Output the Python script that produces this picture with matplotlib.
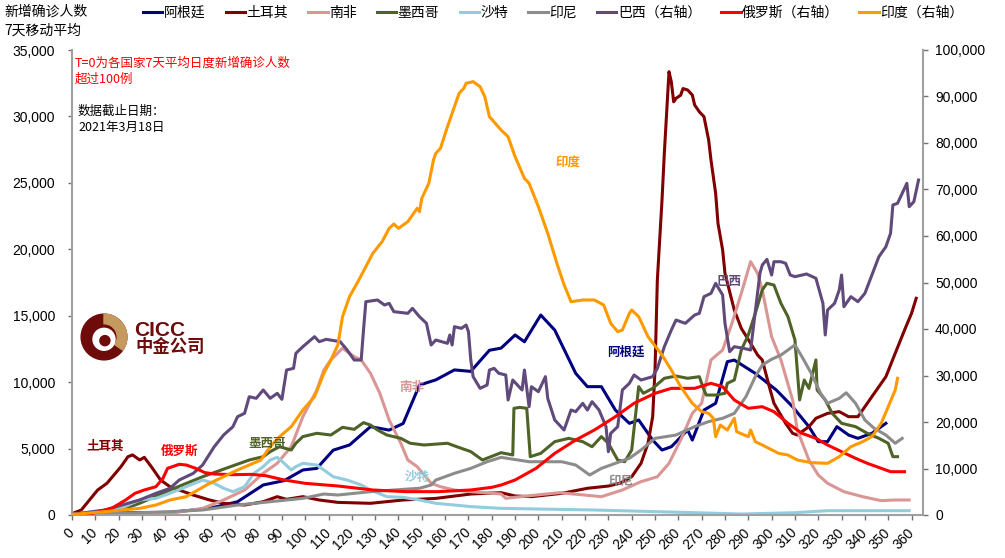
import matplotlib
matplotlib.use('Agg')
import matplotlib.pyplot as plt
from matplotlib.patches import Circle, Wedge
from matplotlib.ticker import FuncFormatter

plt.rcParams['font.family'] = ['Liberation Sans', 'Noto Sans CJK SC', 'DejaVu Sans']
CJK = ['Noto Sans CJK SC', 'DejaVu Sans']

# ---------------- data (T = days since 7-day avg > 100) ----------------
arg_days = [0, 20, 42, 59, 71, 82, 91, 99, 105, 112, 119, 128, 136, 142, 149, 156, 164, 171, 179, 184,
            190, 194, 201, 207, 216, 221, 227, 233, 239, 243, 249, 253, 257, 264, 266, 271, 276, 281, 284, 293,
            302, 309, 316, 320, 324, 328, 333, 337, 343, 349]
arg_vals = [100, 150, 200, 500, 1000, 2260, 2590, 3390, 3510, 4880, 5270, 6650, 6390, 6890, 9780, 10170, 10920, 10810, 12400, 12560,
            13550, 13040, 15050, 13920, 10660, 9660, 9660, 7900, 6900, 7150, 5640, 4890, 5140, 6400, 5640, 7900, 8410, 11540, 11660, 10660,
            9410, 8150, 6650, 5520, 5520, 6650, 6020, 5770, 6150, 6900]

tur_days = [0, 4, 11, 15, 21, 24, 26, 29, 31, 34, 38, 42, 46, 52, 59, 65, 74, 82, 88, 92,
            99, 106, 114, 128, 142, 156, 171, 184, 190, 197, 210, 221, 230, 235, 240, 244, 247, 249, 250, 251,
            253, 254, 256, 257, 258, 259, 261, 262, 264, 266, 267, 269, 271, 273, 274, 276, 277, 279, 280, 284,
            287, 291, 294, 296, 299, 301, 306, 309, 311, 316, 319, 324, 329, 333, 337, 340, 344, 349, 353, 357,
            360, 362]
tur_vals = [100, 380, 1880, 2390, 3640, 4390, 4520, 4140, 4340, 3640, 2630, 2130, 1880, 1500, 1130, 880, 750, 1000, 1380, 1180,
            1380, 1130, 950, 880, 1130, 1250, 1580, 1680, 1430, 1380, 1630, 2010, 2180, 2390, 2880, 3890, 5400, 7400, 10920, 17690,
            23710, 27250, 33370, 32600, 31100, 31360, 31600, 32100, 31990, 31610, 30860, 30350, 29980, 28225, 26720, 24210, 21955, 19945, 18190, 15430,
            14050, 12920, 12040, 11670, 9660, 8410, 6900, 6150, 6020, 6650, 7280, 7650, 7780, 7400, 7400, 8150, 9160, 10410, 12170, 13920,
            15180, 16310]

sa_days = [0, 42, 56, 65, 74, 82, 88, 94, 99, 105, 108, 111, 116, 121, 124, 128, 132, 136, 141, 144,
           148, 154, 158, 164, 171, 184, 186, 195, 209, 227, 236, 244, 251, 256, 261, 266, 270, 274, 279, 283,
           287, 291, 294, 296, 298, 300, 304, 309, 311, 316, 320, 324, 331, 339, 347, 353, 359]
sa_vals = [50, 125, 500, 1130, 1880, 3140, 3890, 5140, 7400, 9410, 10910, 11670, 12550, 11920, 11670, 10660, 9160, 7150, 5400, 4140,
           3640, 2390, 2130, 1880, 1755, 1580, 1255, 1430, 1680, 1380, 1880, 2510, 2880, 3890, 5650, 7650, 8410, 11670, 12420, 14430,
           16690, 19070, 18190, 16940, 15180, 13420, 11670, 8660, 6400, 4140, 3010, 2385, 1755, 1380, 1080, 1130, 1130]

mex_days = [0, 21, 29, 42, 56, 68, 76, 82, 85, 89, 94, 96, 99, 105, 111, 116, 121, 125, 128, 131,
            135, 141, 145, 151, 161, 165, 171, 176, 184, 189, 189.5, 192, 195, 196.5, 201, 207, 213, 219, 223, 227,
            230, 234, 237, 240, 243, 245, 249, 254, 259, 264, 269, 271, 272, 276, 280, 281, 284, 287, 290, 293,
            296, 298, 301, 304, 307, 310, 311, 312, 314, 316, 319, 319.5, 323, 326, 330, 336, 341, 346, 350, 352,
            354]
mex_vals = [50, 375, 880, 1880, 2880, 3640, 4140, 4390, 4770, 5140, 4890, 5400, 5900, 6150, 6020, 6600, 6450, 6950, 6770, 6400,
            6020, 5770, 5400, 5270, 5400, 5140, 4770, 4140, 4690, 4520, 8030, 8100, 8030, 4390, 4640, 5520, 5770, 5520, 5140, 5900,
            5400, 4140, 4010, 4890, 9660, 9160, 9530, 10290, 10460, 10290, 10410, 9410, 9030, 9030, 9160, 9910, 10160, 12420, 13550, 15180,
            16940, 17440, 17310, 15930, 14930, 13170, 10910, 8660, 10160, 9530, 11670, 9410, 8660, 7650, 6900, 6650, 6150, 5770, 5400, 4390,
            4390]

sau_days = [0, 21, 29, 36, 42, 49, 56, 61, 65, 69, 74, 78, 82, 85, 88, 91, 94, 96, 99, 105,
            108, 112, 118, 124, 128, 135, 142, 149, 156, 164, 171, 184, 224, 267, 287, 310, 324, 359]
sau_vals = [50, 500, 1130, 1255, 1630, 2130, 2630, 2385, 2010, 1755, 2130, 3140, 3640, 4140, 4340, 3890, 3390, 3640, 3890, 3760,
            3390, 2880, 2630, 2260, 1880, 1380, 1330, 1130, 880, 750, 630, 500, 375, 175, 75, 175, 325, 325]

idn_days = [0, 20, 42, 56, 71, 85, 99, 108, 114, 128, 142, 149, 154, 156, 164, 171, 178, 184, 196, 210,
            216, 222, 227, 233, 239, 244, 250, 259, 267, 273, 279, 284, 289, 293, 296, 300, 304, 307, 310, 313,
            317, 321, 324, 329, 332, 336, 340, 344, 349, 353, 356]
idn_vals = [50, 120, 250, 375, 750, 1000, 1255, 1580, 1505, 1755, 1930, 2010, 2260, 2630, 3140, 3510, 4010, 4340, 4010, 4010,
            3760, 3010, 3510, 3890, 4270, 4890, 5770, 6020, 6650, 7030, 7280, 7650, 8910, 10410, 11290, 11720, 12040, 12420, 12800, 11920,
            10660, 9160, 8410, 8780, 9200, 8410, 7150, 6520, 6020, 5400, 5770]

bra_days = [0, 14, 29, 36, 42, 46, 52, 56, 61, 65, 69, 71, 74, 76, 79, 82, 85, 88, 90, 92,
            95, 96, 99, 104, 106, 109, 115, 118, 121, 124, 125, 126, 131, 134, 136, 138, 144, 146, 149, 152,
            154, 156, 161, 162, 163, 164, 167, 169, 170, 171, 172, 175, 178, 179, 181, 183, 186, 187, 189, 193,
            194, 196, 197, 200, 203, 204, 207, 211, 214, 216, 219, 221, 223, 226, 229, 230, 231, 234, 236, 239,
            241, 244, 249, 251, 254, 257, 259, 263, 267, 269, 271, 274, 276, 279, 280, 282, 284, 288, 291, 293,
            295, 296, 298, 300, 301, 304, 306, 308, 310, 315, 319, 322, 323, 324, 327, 329, 330, 331, 334, 337,
            340, 343, 346, 349, 351, 352, 354, 356, 358, 359, 361, 363]
bra_vals = [100, 1075, 3230, 4660, 5740, 7530, 8960, 10750, 14690, 17200, 18990, 21140, 21870, 25440, 25090, 26880, 25090, 26170, 24880, 31180,
            31540, 34770, 36200, 38350, 37270, 37780, 37270, 35480, 33330, 33330, 39780, 45870, 46240, 45160, 45520, 43730, 43370, 44440, 42650, 41220,
            36560, 37630, 36920, 38710, 36560, 40500, 40140, 40860, 39420, 33330, 29750, 27240, 27960, 31180, 31540, 30470, 30110, 24730, 29030, 26880,
            31180, 23290, 27590, 26520, 29750, 25090, 20430, 18280, 22580, 22220, 24020, 22580, 24370, 22580, 18990, 13610, 17560, 18990, 26880, 28320,
            30110, 29030, 29750, 31540, 36200, 39780, 41930, 41220, 43010, 43370, 46950, 47670, 49820, 47310, 41220, 35120, 36200, 35840, 35480, 43730,
            52000, 53760, 54980, 51610, 54470, 54470, 54120, 51610, 51250, 51830, 50900, 45520, 38710, 44090, 45520, 48390, 51610, 44800, 46950, 45870,
            47670, 51610, 55550, 57700, 60570, 66670, 67030, 69180, 71330, 66300, 67380, 72040]

rus_days = [0, 9, 17, 23, 27, 31, 36, 39, 41, 46, 49, 53, 57, 61, 69, 77, 83, 91, 100, 114,
            129, 143, 157, 171, 180, 184, 190, 199, 207, 216, 224, 233, 241, 250, 257, 267, 274, 279, 284, 290,
            296, 301, 307, 313, 319, 324, 330, 336, 341, 347, 351, 357]
rus_vals = [100, 360, 1430, 3230, 4660, 5380, 6090, 7890, 10040, 10900, 10750, 10040, 9110, 8820, 8670, 8740, 8460, 7530, 6810, 6240,
            5380, 5020, 5020, 5380, 5950, 6450, 7530, 10040, 13260, 16130, 18280, 21140, 24020, 26170, 27240, 27240, 28320, 27590, 24730, 22950,
            23290, 22220, 19720, 17570, 16490, 15050, 13610, 12190, 11120, 10040, 9310, 9310]

india_days = [0, 14, 29, 36, 42, 49, 54, 59, 65, 71, 76, 81, 85, 89, 94, 99, 104, 108, 111, 114,
              116, 119, 123, 126, 129, 133, 136, 138, 140, 144, 148, 149, 150, 153, 155, 156, 158, 161, 163, 166,
              168, 169, 172, 175, 177, 179, 184, 187, 190, 194, 196, 200, 204, 208, 211, 214, 219, 224, 228, 231,
              234, 236, 239, 240, 243, 247, 253, 257, 261, 266, 270, 273, 275, 276, 278, 281, 284, 285, 290, 291,
              293, 296, 303, 307, 311, 317, 324, 329, 334, 339, 343, 347, 350, 353, 354]
india_vals = [100, 720, 1430, 2150, 3230, 3940, 5380, 6810, 8240, 9680, 10750, 11830, 14690, 16840, 18990, 22580, 25440, 30470, 33330, 36560,
              42650, 46950, 50540, 53400, 56280, 58780, 61650, 62580, 61650, 63080, 65950, 65230, 68110, 71330, 76340, 77780, 78860, 83500, 86380, 90690,
              91760, 92840, 93200, 92110, 89960, 85660, 82790, 81350, 77050, 72400, 71330, 66300, 60570, 54000, 49500, 45870, 46240, 46240, 45160, 41220,
              39420, 39780, 43370, 44090, 42650, 38350, 34410, 31180, 27590, 24020, 22220, 21870, 20790, 16840, 19350, 18280, 20790, 17920, 16840, 18280,
              15770, 15050, 13260, 12900, 11830, 11260, 11110, 12550, 14690, 15770, 16840, 19720, 23290, 26880, 29400]

x_ticks = list(range(0, 361, 10))
left_ticks = [0, 5000, 10000, 15000, 20000, 25000, 30000, 35000]
right_ticks = [0, 10000, 20000, 30000, 40000, 50000, 60000, 70000, 80000, 90000, 100000]

# ---------------- figure ----------------
W, H = 1005, 558
def fx(px):
    return px / W
def fy(py):
    return 1 - py / H

fig = plt.figure(figsize=(W / 100, H / 100), dpi=100)
ax = fig.add_axes([fx(72), fy(515), (922.5 - 72) / W, (515 - 50) / H])
ax2 = ax.twinx()

LW = 2.2
c_arg, c_tur, c_sa, c_mex = '#000080', '#800000', '#D99694', '#4F6228'
c_sau, c_idn, c_bra, c_rus, c_ind = '#93CDDD', '#8C8C8C', '#604A7B', '#FF0000', '#FF9900'

h_arg, = ax.plot(arg_days, arg_vals, color=c_arg, lw=LW)
h_tur, = ax.plot(tur_days, tur_vals, color=c_tur, lw=LW)
h_sa, = ax.plot(sa_days, sa_vals, color=c_sa, lw=LW)
h_mex, = ax.plot(mex_days, mex_vals, color=c_mex, lw=LW)
h_sau, = ax.plot(sau_days, sau_vals, color=c_sau, lw=LW)
h_idn, = ax.plot(idn_days, idn_vals, color=c_idn, lw=LW)
h_bra, = ax2.plot(bra_days, bra_vals, color=c_bra, lw=LW)
h_rus, = ax2.plot(rus_days, rus_vals, color=c_rus, lw=LW)
h_ind, = ax2.plot(india_days, india_vals, color=c_ind, lw=LW)

ax.set_xlim(0, 364.7)
ax.set_ylim(0, 35000)
ax2.set_ylim(0, 100000)

spine_c = '#A0A0A0'
for a in (ax, ax2):
    a.spines['top'].set_visible(False)
ax.spines['right'].set_visible(False)
ax2.spines['left'].set_visible(False)
ax2.spines['bottom'].set_visible(False)
ax.spines['left'].set_color(spine_c)
ax.spines['bottom'].set_color(spine_c)
ax2.spines['right'].set_color(spine_c)
for s in (ax.spines['left'], ax.spines['bottom'], ax2.spines['right']):
    s.set_linewidth(1.5)

fmt = FuncFormatter(lambda v, p: f'{v:,.0f}')
ax.set_xticks(x_ticks)
ax.set_xticklabels([str(t) for t in x_ticks])
ax.set_yticks(left_ticks)
ax.yaxis.set_major_formatter(fmt)
ax2.set_yticks(right_ticks)
ax2.yaxis.set_major_formatter(fmt)

ax.tick_params(axis='x', direction='out', length=3.5, width=1, color='#707070', labelsize=10, pad=7.5)
ax.tick_params(axis='y', direction='out', length=3, width=1, color='#707070', labelsize=10, pad=9)
ax2.tick_params(axis='y', direction='out', length=3.5, width=1, color='#707070', labelsize=10, pad=5.5)
for lab in ax.get_xticklabels():
    lab.set_rotation(45)
    lab.set_ha('right')
    lab.set_va('center')
    lab.set_rotation_mode('anchor')

# ---------------- legend ----------------
handles = [h_arg, h_tur, h_sa, h_mex, h_sau, h_idn, h_bra, h_rus, h_ind]
labels = ['阿根廷', '土耳其', '南非', '墨西哥', '沙特', '印尼', '巴西（右轴）', '俄罗斯（右轴）', '印度（右轴）']
fig.legend(handles, labels, loc='upper left', bbox_to_anchor=(fx(143), fy(6)), ncol=9, frameon=False,
           prop={'family': CJK, 'size': 10}, handlelength=1.4, handletextpad=0.1, columnspacing=1.45,
           borderaxespad=0, borderpad=0)

# ---------------- texts ----------------
fig.text(fx(4), fy(5), '新增确诊人数\n7天移动平均', va='top', ha='left', fontsize=10,
         family=CJK, linespacing=1.45)
fig.text(fx(75), fy(57), 'T=0为各国家7天平均日度新增确诊人数\n超过100例', va='top', ha='left',
         fontsize=9, color='#FF0000', family=CJK, linespacing=1.25)
fig.text(fx(78), fy(105), '数据截止日期：\n2021年3月18日', va='top', ha='left',
         fontsize=9, color='black', family=CJK, linespacing=1.3)

def series_label(txt, px, py, color):
    fig.text(fx(px), fy(py), txt, ha='center', va='center', fontsize=9, color=color,
             family=CJK, weight='bold')

series_label('土耳其', 105, 446, c_tur)
series_label('俄罗斯', 180, 451, c_rus)
series_label('墨西哥', 267, 443, c_mex)
series_label('南非', 412, 387, c_sa)
series_label('沙特', 417, 477, c_sau)
series_label('阿根廷', 626, 352, c_arg)
series_label('印尼', 621, 482, '#8C8C8C')
series_label('巴西', 729, 282, c_bra)
series_label('印度', 568, 162, c_ind)

# ---------------- logo ----------------
dark = '#6E0B0B'
gold = '#C49A5E'
lax = fig.add_axes([fx(80), fy(361), 48 / W, 48 / H])
lax.set_xlim(-1.05, 1.05)
lax.set_ylim(-1.05, 1.05)
lax.set_aspect('equal')
lax.axis('off')
lax.add_patch(Circle((0, 0), 1.0, color=dark))
lax.add_patch(Wedge((0, 0), 1.0, -35, 90, width=0.42, color=gold))
lax.add_patch(Circle((0.0, -0.1), 0.48, color='white'))
lax.add_patch(Circle((0.04, -0.16), 0.22, color=dark))
fig.text(fx(134), fy(330), 'CICC', ha='left', va='center', fontsize=15, weight='bold', color=dark,
         family=['Liberation Sans'])
fig.text(fx(135), fy(347), '中金公司', ha='left', va='center', fontsize=12.5, weight='bold', color=dark,
         family=CJK)

fig.savefig('out.png', dpi=100)
